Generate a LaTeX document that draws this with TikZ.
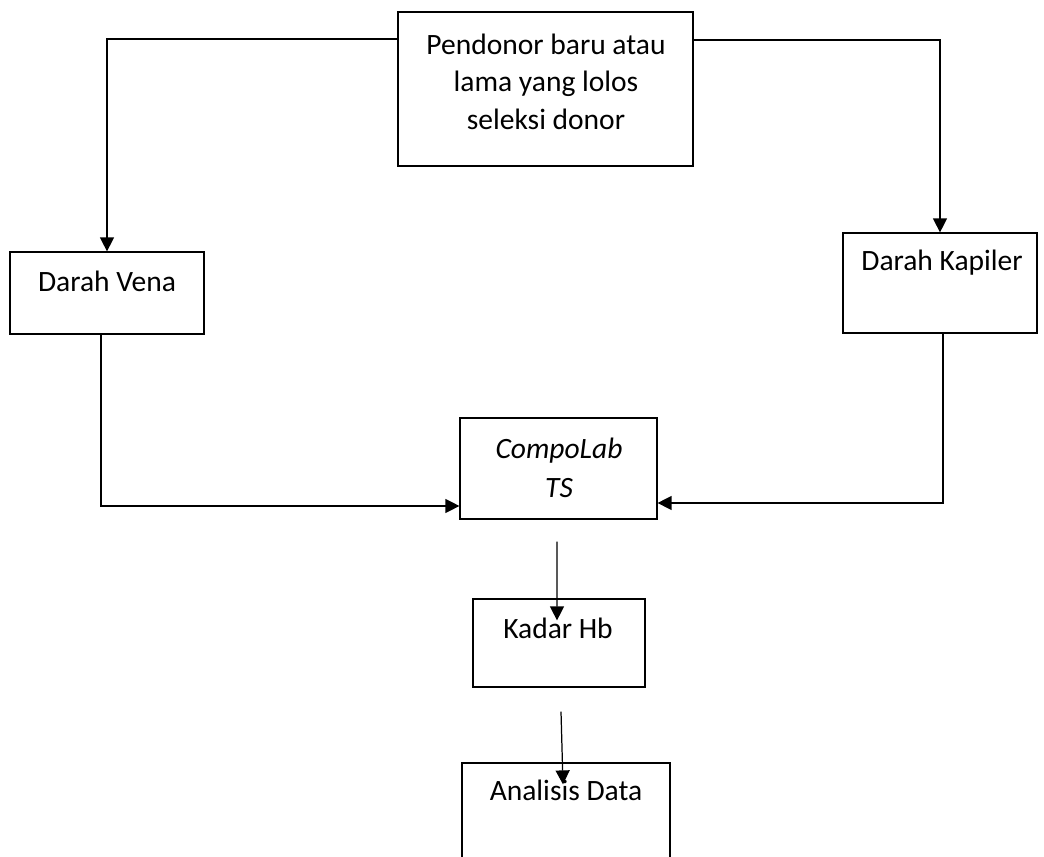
\documentclass[tikz,border=0pt]{standalone}
\usepackage{fontspec}
\setmainfont{Carlito}
\usetikzlibrary{arrows.meta,positioning}
\tikzset{
  box/.style={draw,line width=0.7pt,inner sep=0pt},
  lbl/.style={font=\fontsize{16.8}{21.3}\selectfont,inner sep=0pt,align=center},
  arr/.style={line width=0.7pt,-{Triangle[length=0.28cm,width=0.28cm]}}
}
\begin{document}
\begin{tikzpicture}[x=0.02cm,y=-0.02cm]
  \useasboundingbox (0,0) rectangle (1044,857); \clip (0,0) rectangle (1044,857);
  \node[box,minimum width=5.9cm,minimum height=3.08cm] (donor) at (545.5,89) {};
  \node[box,minimum width=3.88cm,minimum height=1.64cm] (vena) at (107,293) {};
  \node[box,minimum width=3.88cm,minimum height=2cm] (kap) at (940,283) {};
  \node[box,minimum width=3.94cm,minimum height=2.02cm] (compo) at (558.5,468.5) {};
  \node[box,minimum width=3.44cm,minimum height=1.76cm] (hb) at (559,643) {};
  \node[box,minimum width=4.16cm,minimum height=2.74cm] (anls) at (566,831.5) {};
  \node[lbl] (donor-t) at (546,81.5) {Pendonor baru atau\\lama yang lolos\\seleksi donor};
  \node[lbl,anchor=base] (vena-t) at (107,292) {Darah Vena};
  \node[lbl,anchor=base] (kap-t) at (942,271) {Darah Kapiler};
  \node[lbl,font=\fontsize{16.8}{21.3}\selectfont\itshape] (compo-t) at (559,468) {CompoLab\\[0.04cm]TS};
  \node[lbl,anchor=base] (hb-t) at (558,638) {Kadar Hb};
  \node[lbl,anchor=base] (anls-t) at (566,800) {Analisis Data};
  \draw[arr] ([yshift=1cm]donor.west) -| (vena.north);
  \draw[arr] ([yshift=0.98cm]donor.east) -| (kap.north);
  \draw[arr] ([xshift=-0.12cm]vena.south) |- ([yshift=-0.75cm]compo.west);
  \draw[arr] ([xshift=0.06cm]kap.south) |- ([yshift=-0.69cm]compo.east);
  \draw[arr] ([xshift=-0.03cm,yshift=-0.44cm]compo.south) -- ([xshift=-0.04cm,yshift=-0.44cm]hb.north);
  \draw[arr] ([xshift=0.04cm,yshift=-0.48cm]hb.south) -- ([xshift=-0.06cm,yshift=-0.44cm]anls.north);
\end{tikzpicture}
\end{document}
